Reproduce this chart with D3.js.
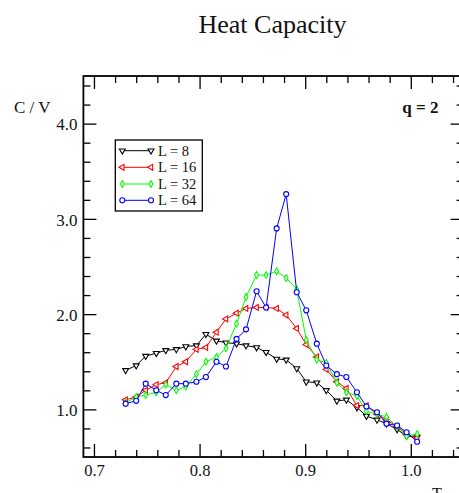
<!DOCTYPE html>
<html>
<head>
<meta charset="utf-8">
<script src="https://cdn.jsdelivr.net/npm/d3@7"></script>
<style>
  html, body { margin: 0; padding: 0; background: #fff; }
  svg { display: block; font-family: "Liberation Serif", "Times New Roman", serif; }
</style>
</head>
<body>
<svg id="chart" width="459" height="493"></svg>
<script>
// Temperature grid shared by every lattice size
const temps = [0.730, 0.740, 0.749, 0.759, 0.768, 0.778, 0.787, 0.797, 0.806, 0.816,
               0.825, 0.835, 0.844, 0.854, 0.863, 0.873, 0.882, 0.892, 0.901, 0.911,
               0.920, 0.930, 0.939, 0.949, 0.958, 0.968, 0.977, 0.987, 0.996, 1.006];

// Specific heat per site for each lattice size
const cL8  = [1.41, 1.46, 1.56, 1.59, 1.62, 1.63, 1.66, 1.67, 1.79, 1.72,
              1.70, 1.69, 1.67, 1.65, 1.60, 1.53, 1.52, 1.43, 1.29, 1.28,
              1.20, 1.09, 1.10, 1.02, 0.93, 0.89, 0.85, 0.79, 0.72, 0.71];
const cL16 = [1.10, 1.13, 1.20, 1.26, 1.28, 1.45, 1.50, 1.63, 1.65, 1.81,
              1.95, 2.01, 2.06, 2.07, 2.07, 2.06, 1.99, 1.85, 1.68, 1.55,
              1.42, 1.29, 1.22, 1.04, 1.04, 0.95, 0.89, 0.82, 0.74, 0.70];
const cL32 = [1.07, 1.13, 1.15, 1.18, 1.26, 1.20, 1.24, 1.37, 1.50, 1.55,
              1.64, 1.90, 2.18, 2.41, 2.41, 2.45, 2.38, 2.26, 1.73, 1.52,
              1.49, 1.28, 1.18, 1.14, 0.98, 0.95, 0.92, 0.82, 0.72, 0.74];
const cL64 = [1.06, 1.09, 1.27, 1.20, 1.15, 1.27, 1.27, 1.29, 1.34, 1.50,
              1.45, 1.74, 1.84, 2.24, 2.07, 2.90, 3.26, 2.23, 2.04, 1.69,
              1.46, 1.37, 1.34, 1.18, 1.03, 0.97, 0.85, 0.83, 0.76, 0.66];

const seriesNames  = ["L = 8", "L = 16", "L = 32", "L = 64"];
const seriesValues = [cL8, cL16, cL32, cL64];
const seriesColors = ["#000000", "#ff0000", "#00ff00", "#0000ff"];

const xMajorTicks = [0.7, 0.8, 0.9, 1.0];
const xMinorTicks = [0.72, 0.74, 0.76, 0.78, 0.82, 0.84, 0.86, 0.88, 0.92, 0.94, 0.96, 0.98, 1.02, 1.04];
const yMajorTicks = [1.0, 2.0, 3.0, 4.0];
const yMinorTicks = [0.6, 0.8, 1.2, 1.4, 1.6, 1.8, 2.2, 2.4, 2.6, 2.8, 3.2, 3.4, 3.6, 3.8, 4.2, 4.4];

const svg = d3.select("#chart");

const plot = { left: 83.4, right: 463.6, top: 76, bottom: 457 };

const x = d3.scaleLinear().domain([0.69, 1.05]).range([plot.left, plot.right]);
const y = d3.scaleLinear().domain([0.5, 4.5]).range([plot.bottom, plot.top]);

// Marker shapes: down triangle, left triangle, diamond, circle
const markerDefs = [
  { type: d3.symbolTriangle, size: 15, rotate: 180 },
  { type: d3.symbolTriangle, size: 15, rotate: -90 },
  { type: d3.symbolDiamond,  size: 13, rotate: 0 },
  { type: d3.symbolCircle,   size: 20, rotate: 0 }
];

// Title
svg.append("text")
  .attr("x", 272.5).attr("y", 33)
  .attr("text-anchor", "middle")
  .attr("font-size", 26)
  .attr("fill", "#111")
  .text("Heat Capacity");

// Axes with inward ticks on all four sides
function styleAxis(g) {
  g.select(".domain").remove();
  g.selectAll(".tick line").attr("stroke", "#000").attr("stroke-width", 1.3);
}

const majorLen = 13, minorLen = 7;

const gBottom = svg.append("g").attr("transform", `translate(0,${plot.bottom})`)
  .call(d3.axisBottom(x).tickValues(xMajorTicks).tickSize(-majorLen).tickSizeOuter(0)
    .tickFormat(d3.format(".1f")));
styleAxis(gBottom);
gBottom.selectAll(".tick text").attr("y", 19).attr("dy", 0)
  .attr("font-size", 16.5).attr("font-family", "Liberation Serif, serif").attr("fill", "#111");

svg.append("g").attr("transform", `translate(0,${plot.bottom})`)
  .call(d3.axisBottom(x).tickValues(xMinorTicks).tickSize(-minorLen).tickSizeOuter(0).tickFormat(""))
  .call(styleAxis);

svg.append("g").attr("transform", `translate(0,${plot.top})`)
  .call(d3.axisTop(x).tickValues(xMajorTicks).tickSize(-majorLen).tickSizeOuter(0).tickFormat(""))
  .call(styleAxis);
svg.append("g").attr("transform", `translate(0,${plot.top})`)
  .call(d3.axisTop(x).tickValues(xMinorTicks).tickSize(-minorLen).tickSizeOuter(0).tickFormat(""))
  .call(styleAxis);

const gLeft = svg.append("g").attr("transform", `translate(${plot.left},0)`)
  .call(d3.axisLeft(y).tickValues(yMajorTicks).tickSize(-majorLen).tickSizeOuter(0)
    .tickFormat(d3.format(".1f")));
styleAxis(gLeft);
gLeft.selectAll(".tick text").attr("x", -6).attr("dy", "0.36em")
  .attr("font-size", 17).attr("font-family", "Liberation Serif, serif").attr("fill", "#111");

svg.append("g").attr("transform", `translate(${plot.left},0)`)
  .call(d3.axisLeft(y).tickValues(yMinorTicks).tickSize(-minorLen).tickSizeOuter(0).tickFormat(""))
  .call(styleAxis);

svg.append("g").attr("transform", `translate(${plot.right},0)`)
  .call(d3.axisRight(y).tickValues(yMajorTicks).tickSize(-majorLen).tickSizeOuter(0).tickFormat(""))
  .call(styleAxis);
svg.append("g").attr("transform", `translate(${plot.right},0)`)
  .call(d3.axisRight(y).tickValues(yMinorTicks).tickSize(-minorLen).tickSizeOuter(0).tickFormat(""))
  .call(styleAxis);

// Frame
svg.append("rect")
  .attr("x", plot.left).attr("y", plot.top)
  .attr("width", plot.right - plot.left).attr("height", plot.bottom - plot.top)
  .attr("fill", "none").attr("stroke", "#000").attr("stroke-width", 1.8);

// Axis labels
svg.append("text")
  .attr("x", 14).attr("y", 113)
  .attr("font-size", 17).attr("fill", "#111")
  .text("C / V");

svg.append("text")
  .attr("x", 437).attr("y", 499)
  .attr("text-anchor", "middle")
  .attr("font-size", 16).attr("fill", "#111")
  .text("T");

svg.append("text")
  .attr("x", 438.5).attr("y", 113)
  .attr("text-anchor", "end")
  .attr("font-size", 17).attr("font-weight", "bold").attr("fill", "#111")
  .text("q = 2");

// Data series
const line = d3.line().x(d => x(d[0])).y(d => y(d[1]));

seriesValues.forEach((vals, i) => {
  const pts = temps.map((t, k) => [t, vals[k]]);
  const g = svg.append("g");
  g.append("path")
    .attr("d", line(pts))
    .attr("fill", "none")
    .attr("stroke", seriesColors[i])
    .attr("stroke-width", 1);
  const m = markerDefs[i];
  const sym = d3.symbol().type(m.type).size(m.size);
  g.selectAll("path.mk").data(pts).join("path")
    .attr("class", "mk")
    .attr("d", sym)
    .attr("transform", d => `translate(${x(d[0])},${y(d[1])}) rotate(${m.rotate})`)
    .attr("fill", "#fff")
    .attr("stroke", seriesColors[i])
    .attr("stroke-width", 1.1);
});

// Legend
const legend = svg.append("g");
legend.append("rect")
  .attr("x", 115.3).attr("y", 140)
  .attr("width", 87).attr("height", 71)
  .attr("fill", "#fff").attr("stroke", "#000").attr("stroke-width", 1.3);

const rowY = [150.7, 167.3, 184, 200.3];
seriesNames.forEach((name, i) => {
  const yy = rowY[i];
  const m = markerDefs[i];
  const sym = d3.symbol().type(m.type).size(m.size);
  legend.append("line")
    .attr("x1", 122.3).attr("x2", 151).attr("y1", yy).attr("y2", yy)
    .attr("stroke", seriesColors[i]).attr("stroke-width", 1);
  [122.3, 151].forEach(px => {
    legend.append("path")
      .attr("d", sym)
      .attr("transform", `translate(${px},${yy}) rotate(${m.rotate})`)
      .attr("fill", "#fff")
      .attr("stroke", seriesColors[i])
      .attr("stroke-width", 1.1);
  });
  legend.append("text")
    .attr("x", 158).attr("y", yy + 5)
    .attr("font-size", 14.5).attr("fill", "#111")
    .text(name);
});
</script>
</body>
</html>
